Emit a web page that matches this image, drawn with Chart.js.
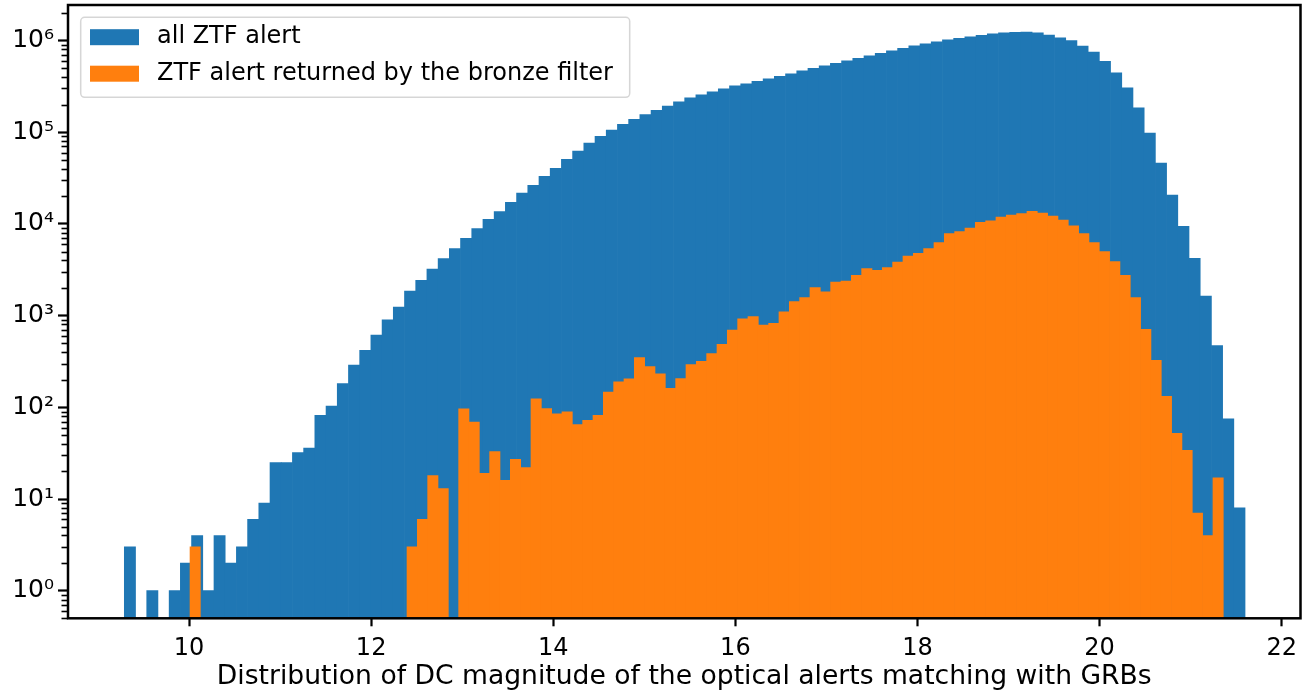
<!DOCTYPE html>
<html><head><meta charset="utf-8">
<script src="https://cdn.jsdelivr.net/npm/chart.js@4/dist/chart.umd.min.js"></script>
<style>html,body{margin:0;padding:0;background:#fff;overflow:hidden}#wrap{width:1302px;height:692px}</style>
</head><body><div id="wrap"><canvas id="c" width="1302" height="692"></canvas></div>
<script>
// ---- data (histogram bins: range + count, counts per bin; null = empty bin)
const allRange = [9.2895, 21.597];
const bronzeRange = [10.011, 21.358];
const nBins = 100;
const allCounts = [3,null,1,null,1,2,4,1,4,2,3,6,9,25,25,32,36,82,103,182,
 288,417,612,902,1240,1850,2430,3220,4190,5390,6980,8910,11250,13670,17150,21670,26300,33000,40300,50500,
 62300,76200,90200,105700,122000,138000,156000,173000,193000,214000,237000,255000,275000,297000,320000,337000,358000,381000,406000,433000,
 467000,497000,529000,564000,600000,639000,681000,724000,771000,822000,875000,920000,968000,1020000,1057000,1097000,1140000,1180000,1210000,1230000,
 1236000,1210000,1150000,1070000,1000000,868000,746000,594000,445000,305000,184000,98000,46100,20600,9440,4220,1633,472,75,8];
const bronzeCounts = [3,null,null,null,null,null,null,null,null,null,null,null,null,null,null,null,null,null,null,null,
 null,3,6,18,13,null,96,69,19,33,16,27,22,124,97,85,89,65,72,82,
 147,190,204,349,278,232,161,206,293,318,386,485,695,925,973,787,822,1100,1420,1570,
 2020,1820,2320,2380,2750,3260,3120,3340,3840,4470,4780,5390,6260,7860,8260,8980,10400,10800,11900,12500,
 13000,13700,13100,12200,11000,9510,7860,6260,4990,3880,2750,1570,707,326,132,52,34,7,4,17];
const seriesLabels = ['all ZTF alert', 'ZTF alert returned by the bronze filter'];
const seriesColors = ['#1f77b4', '#ff7f0e'];
const xTicks = [10, 12, 14, 16, 18, 20, 22];
const yMajorTicks = [1, 10, 100, 1000, 10000, 100000, 1000000];
const yMinorMultipliers = [2, 3, 4, 5, 6, 7, 8, 9];
const xLimits = [8.671, 22.206];
const yLimits = [0.5, 2.44e6];
const xTitle = 'Distribution of DC magnitude of the optical alerts matching with GRBs';

// ---- helpers
function centers(range, n) {
  const w = (range[1] - range[0]) / n;
  return Array.from({length: n}, (_, i) => range[0] + (i + 0.5) * w);
}
const allX = centers(allRange, nBins);
const bronzeX = centers(bronzeRange, nBins);
const sup = {'0':'⁰','1':'¹','2':'²','3':'³','4':'⁴','5':'⁵','6':'⁶','7':'⁷','8':'⁸','9':'⁹','-':'⁻'};
const isMajor = v => yMajorTicks.some(m => Math.abs(m - v) / m < 1e-9);
const yTickValues = [];
[0.1, ...yMajorTicks].forEach(d => {
  if (d >= 1) yTickValues.push(d);
  yMinorMultipliers.forEach(m => yTickValues.push(m * d));
});
const yTicksInRange = yTickValues.filter(v => v >= yLimits[0] - 1e-9 && v <= yLimits[1]).sort((a, b) => a - b);
const FONT = 'DejaVu Sans';
const noPad = s => { s.paddingTop = 0; s.paddingBottom = 0; s.paddingLeft = 0; s.paddingRight = 0; };

// legend geometry
const LEG_PAD = 12.5, LEG_FONT = 24, PATCH_W = 49, PATCH_H = 16, PATCH_GAP = 6;

const helperPlugin = {
  id: 'helper',
  afterLayout(chart) {
    const lg = chart.legend;
    if (!lg) return;
    const ca = chart.chartArea;
    const tl = ca.left + 9.5, tt = ca.top + 7.7;
    const dx = tl - lg.left, dy = tt - lg.top;
    lg.left += dx; lg.right += dx; lg.top += dy; lg.bottom += dy;
  },
  beforeDraw(chart) {
    const ctx = chart.ctx, lg = chart.legend;
    const x = lg.left + 3.2, y = lg.top + 4.6, w = 549, h = 80, r = 4;
    ctx.save();
    ctx.beginPath();
    ctx.roundRect(x, y, w, h, r);
    ctx.fillStyle = 'rgba(255,255,255,0.8)';
    ctx.fill();
    ctx.lineWidth = 1.5;
    ctx.strokeStyle = 'rgba(204,204,204,0.8)';
    ctx.stroke();
    ctx.restore();
  },
  afterDatasetsDraw(chart) {
    const ctx = chart.ctx, ca = chart.chartArea, ys = chart.scales.y;
    ctx.save();
    ctx.strokeStyle = '#000';
    ctx.lineWidth = 1.6;
    ys.ticks.forEach(t => {
      if (isMajor(t.value)) return;
      const py = Math.round(ys.getPixelForValue(t.value)) + 0.5;
      ctx.beginPath(); ctx.moveTo(ca.left, py); ctx.lineTo(ca.left - 6.5, py); ctx.stroke();
    });
    ctx.lineWidth = 2.5;
    ctx.strokeRect(ca.left, ca.top, ca.right - ca.left, ca.bottom - ca.top);
    ctx.restore();
  },
  afterDraw(chart) {
    // legend colour patches (legend's own boxes are transparent to allow a wider text gap)
    const ctx = chart.ctx, lg = chart.legend;
    ctx.save();
    lg.legendItems.forEach((item, i) => {
      const ds = chart.data.datasets[item.datasetIndex];
      ctx.fillStyle = ds.backgroundColor;
      const px = lg.left + LEG_PAD;
      const py = lg.top + LEG_PAD + i * (LEG_FONT + LEG_PAD) + (LEG_FONT - PATCH_H) / 2;
      ctx.fillRect(px, py, PATCH_W, PATCH_H);
    });
    ctx.restore();
  }
};

const barCommon = {barPercentage: 1, categoryPercentage: 1, borderWidth: 0, grouped: false};
new Chart(document.getElementById('c'), {
  type: 'bar',
  data: {
    datasets: [
      Object.assign({label: seriesLabels[0], data: allX.map((x, i) => ({x, y: allCounts[i]})),
        backgroundColor: seriesColors[0], xAxisID: 'x', yAxisID: 'y', order: 2}, barCommon),
      Object.assign({label: seriesLabels[1], data: bronzeX.map((x, i) => ({x, y: bronzeCounts[i]})),
        backgroundColor: seriesColors[1], xAxisID: 'x2', yAxisID: 'y', order: 1}, barCommon)
    ]
  },
  options: {
    responsive: false, animation: false, devicePixelRatio: 1,
    layout: {padding: {top: 5, right: 1.5, left: 0, bottom: 0}},
    plugins: {
      tooltip: {enabled: false},
      legend: {
        position: 'chartArea', align: 'start',
        labels: {boxWidth: PATCH_W + PATCH_GAP, boxHeight: PATCH_H, padding: LEG_PAD, color: '#000',
          font: {family: FONT, size: LEG_FONT},
          sort: (a, b) => a.datasetIndex - b.datasetIndex,
          generateLabels: chart => Chart.defaults.plugins.legend.labels.generateLabels(chart)
            .map(it => Object.assign(it, {fillStyle: 'rgba(0,0,0,0)', strokeStyle: 'rgba(0,0,0,0)', lineWidth: 0}))}
      }
    },
    scales: {
      x: {
        type: 'linear', position: 'bottom', min: xLimits[0], max: xLimits[1], offset: false,
        afterBuildTicks: s => { s.ticks = xTicks.map(v => ({value: v})); },
        afterFit: s => { s.height = 73.7; noPad(s); },
        border: {display: false},
        grid: {offset: false, drawOnChartArea: false, drawTicks: true, tickLength: 8, tickWidth: 2.2, tickColor: '#000'},
        ticks: {autoSkip: false, maxRotation: 0, padding: 8, color: '#000', font: {family: FONT, size: 24},
          callback: v => String(v)},
        title: {display: true, text: xTitle, color: '#000', font: {family: FONT, size: 26.6}, padding: {top: 0, bottom: -1}}
      },
      x2: {
        type: 'linear', display: false, min: xLimits[0], max: xLimits[1], offset: false,
        afterBuildTicks: s => { s.ticks = xTicks.map(v => ({value: v})); },
        afterFit: s => { noPad(s); }
      },
      y: {
        type: 'logarithmic', position: 'left', min: yLimits[0], max: yLimits[1],
        afterBuildTicks: s => { s.ticks = yTicksInRange.map(v => ({value: v, major: isMajor(v)})); },
        afterFit: s => { s.width = 68; noPad(s); },
        border: {display: false},
        grid: {drawOnChartArea: false, drawTicks: true, tickLength: 10, tickWidth: 2.2,
          tickColor: c => (c.tick && isMajor(c.tick.value)) ? '#000' : 'rgba(0,0,0,0)'},
        ticks: {autoSkip: false, padding: 4, color: '#000', font: {family: FONT, size: 25},
          callback: v => isMajor(v) ? '10' + String(Math.round(Math.log10(v))).split('').map(ch => sup[ch]).join('') : ''}
      }
    }
  },
  plugins: [helperPlugin]
});
</script>
</body></html>
